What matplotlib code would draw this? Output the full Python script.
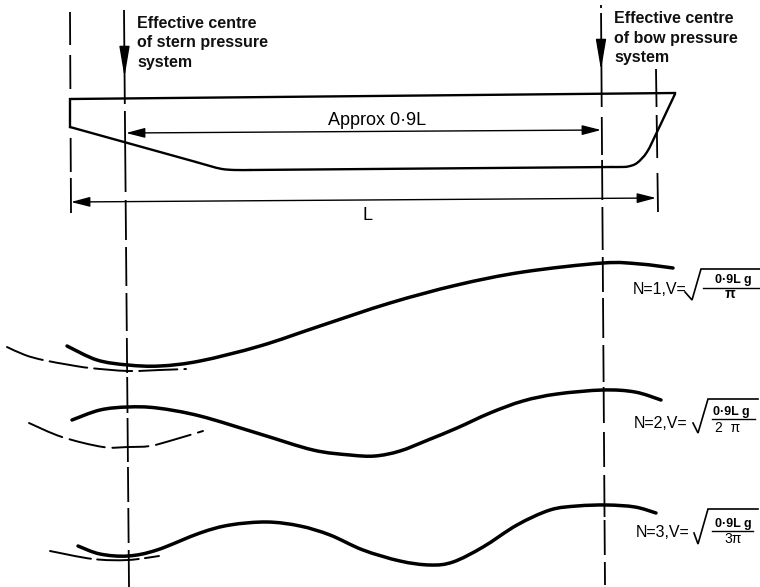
import matplotlib
matplotlib.use("Agg")
import matplotlib.pyplot as plt
from matplotlib.path import Path
from matplotlib.patches import PathPatch

plt.rcParams['lines.scale_dashes'] = False
plt.rcParams['font.family'] = ['Liberation Sans', 'DejaVu Sans']

deck_x = [70, 70, 675]
deck_y = [127, 99, 93]
stern_run_x = [70, 196]
stern_run_y = [127, 162]
corner_x = [196, 210, 222, 235, 250]
corner_y = [162, 166, 169, 170, 170]
keel_x = [250, 612]
keel_y = [170, 167]
bow_x = [612, 620, 628, 637, 647, 657, 666, 675]
bow_y = [167, 167, 166.5, 163, 152, 132, 113, 94]

wave1_x = [67, 97, 128, 160, 200, 260, 320, 390, 457, 523, 603, 640, 673]
wave1_y = [346, 360, 365, 366, 361, 346, 326, 303, 285, 272, 263, 264, 268]
wave2_x = [72, 100, 128, 157, 200, 260, 313, 350, 375, 400, 428, 457, 490, 523, 557, 603, 635, 661]
wave2_y = [420, 410, 407, 408, 416, 434, 450, 455, 456, 451, 440, 428, 413, 401, 394, 390, 392, 400]
wave3_x = [78, 100, 128, 157, 200, 230, 267, 300, 330, 363, 400, 430, 453, 483, 517, 550, 577, 607, 635, 656]
wave3_y = [546, 554, 556, 550, 533, 525, 522, 526, 535, 550, 561, 565, 562, 547, 525, 510, 506, 505, 507, 513]

dash1_x = [7, 25, 43, 70, 90, 128, 160, 186]
dash1_y = [347, 355, 360, 365, 368, 371, 370, 369]
dash2_x = [29, 62, 103, 128, 150, 173, 203]
dash2_y = [423, 437, 447, 447, 446, 440, 431]
dash3_x = [50, 93, 128, 159]
dash3_y = [551, 559, 560, 556]
dash_styles = [(27.5, 5), (26, 5.5), (30, 4.5)]

# dashed construction lines: x at top and bottom, then the (start, end) of each dash
left_x = (70, 71)
left_dashes = [(12, 45), (55, 89), (138, 172), (178, 213)]
stern_x = (124, 129)
stern_dashes = [(10, 104), (111, 192), (200, 240), (247, 286), (293, 331), (338, 373), (377, 413),
                (418, 462), (467, 502), (508, 543), (550, 587)]
bow_line_x = (601, 605)
bow_dashes = [(5, 8), (13, 107), (117, 155), (160, 200), (207, 250), (257, 292), (298, 338),
              (345, 382), (387, 423), (432, 467), (475, 517), (520, 555), (562, 585)]
end_x = (656, 658)
end_dashes = [(69, 107), (115, 158), (173, 212)]

effective_stern = ["Effective centre", "of stern pressure", "system"]
effective_stern_y = [28, 47.5, 67]
effective_bow = ["Effective centre", "of bow pressure", "system"]
effective_bow_y = [23, 43, 62]

n_labels = ["N=1,V=", "N=2,V=", "N=3,V="]
n_x = [633, 634, 636]
n_y = [294, 428, 537]
roots_x = [[685, 692, 701, 760], [693, 698, 708, 758], [694, 698, 708, 758]]
roots_y = [[292, 300, 269, 269], [423, 433, 399, 399], [533, 544, 509, 509]]
bars_x = [(703, 760), (712, 755), (712, 753)]
bars_y = [288, 419, 531]
numer_x = [733, 731, 733]
numer_y = [283, 415, 527]
denoms = ["π", "2  π", "3π"]
denom_x = [730, 728, 733]
denom_y = [298, 432, 543]


def smooth(xs, ys):
    # catmull-rom through the read points, as bezier segments
    pts = list(zip(xs, ys))
    verts = [pts[0]]
    codes = [Path.MOVETO]
    for i in range(len(pts) - 1):
        p0 = pts[max(i - 1, 0)]
        p1 = pts[i]
        p2 = pts[i + 1]
        p3 = pts[min(i + 2, len(pts) - 1)]
        verts.append((p1[0] + (p2[0] - p0[0]) / 6, p1[1] + (p2[1] - p0[1]) / 6))
        verts.append((p2[0] - (p3[0] - p1[0]) / 6, p2[1] - (p3[1] - p1[1]) / 6))
        verts.append(p2)
        codes += [Path.CURVE4] * 3
    return Path(verts, codes)


def draw_curve(ax, xs, ys, lw, **kw):
    ax.add_patch(PathPatch(smooth(xs, ys), fc="none", ec="black", lw=lw, capstyle="round", **kw))


def draw_centre(ax, xs, dashes, lw=1.3):
    y0, y1 = dashes[0][0], dashes[-1][1]
    for a, b in dashes:
        xa = xs[0] + (xs[1] - xs[0]) * (a - y0) / (y1 - y0)
        xb = xs[0] + (xs[1] - xs[0]) * (b - y0) / (y1 - y0)
        ax.plot([xa, xb], [a, b], color="black", lw=lw, solid_capstyle="butt")


def arrow(ax, start, tip, style):
    ax.annotate("", xy=tip, xytext=start,
                arrowprops=dict(arrowstyle=style, color="black", lw=1.0, shrinkA=0, shrinkB=0,
                                mutation_scale=10))


fig = plt.figure(figsize=(7.6, 5.87), dpi=100)
ax = fig.add_axes([0, 0, 1, 1])
ax.set_xlim(0, 760)
ax.set_ylim(587, 0)
ax.axis("off")

# ship outline
ax.plot(deck_x, deck_y, color="black", lw=1.7, solid_joinstyle="miter")
ax.plot(stern_run_x, stern_run_y, color="black", lw=1.7, solid_capstyle="round")
draw_curve(ax, corner_x, corner_y, 1.7)
ax.plot(keel_x, keel_y, color="black", lw=1.7, solid_capstyle="round")
draw_curve(ax, bow_x, bow_y, 1.7)

for xs, dashes in [(left_x, left_dashes), (stern_x, stern_dashes),
                   (bow_line_x, bow_dashes), (end_x, end_dashes)]:
    draw_centre(ax, xs, dashes)

# pressure arrows coming down
down = "-|>,head_length=1.9,head_width=0.32"
arrow(ax, (124.5, 50), (124.5, 77), down)
arrow(ax, (601, 48), (601, 70), down)

# dimension lines
both = "<|-|>,head_length=1.15,head_width=0.3"
arrow(ax, (601, 130), (126, 133), both)
arrow(ax, (656, 198), (71, 202), both)

# wave profiles
draw_curve(ax, wave1_x, wave1_y, 2.5)
draw_curve(ax, wave2_x, wave2_y, 2.5)
draw_curve(ax, wave3_x, wave3_y, 2.5)
for xs, ys, st in zip([dash1_x, dash2_x, dash3_x], [dash1_y, dash2_y, dash3_y], dash_styles):
    draw_curve(ax, xs, ys, 1.4, linestyle=(0, st))

for label, y in zip(effective_stern, effective_stern_y):
    ax.text(137, y, label, fontsize=11.5, fontweight="bold", va="baseline", color="#111111")
for label, y in zip(effective_bow, effective_bow_y):
    ax.text(614, y, label, fontsize=11.5, fontweight="bold", va="baseline", color="#111111")

ax.text(328, 125, "Approx 0·9L", fontsize=13, va="baseline")
ax.text(363, 220, "L", fontsize=13, va="baseline")

for i in range(3):
    ax.text(n_x[i], n_y[i], n_labels[i], fontsize=11.5, va="baseline")
    ax.plot(roots_x[i], roots_y[i], color="black", lw=1.2, solid_joinstyle="miter")
    ax.plot(bars_x[i], [bars_y[i], bars_y[i]], color="black", lw=1.0)
    ax.text(numer_x[i], numer_y[i], "0·9L g", fontsize=9, fontweight="bold", ha="center", va="baseline")
    ax.text(denom_x[i], denom_y[i], denoms[i], fontsize=10, ha="center", va="baseline",
            fontweight="bold" if i == 0 else "normal")

fig.savefig("out.png", dpi=100)
